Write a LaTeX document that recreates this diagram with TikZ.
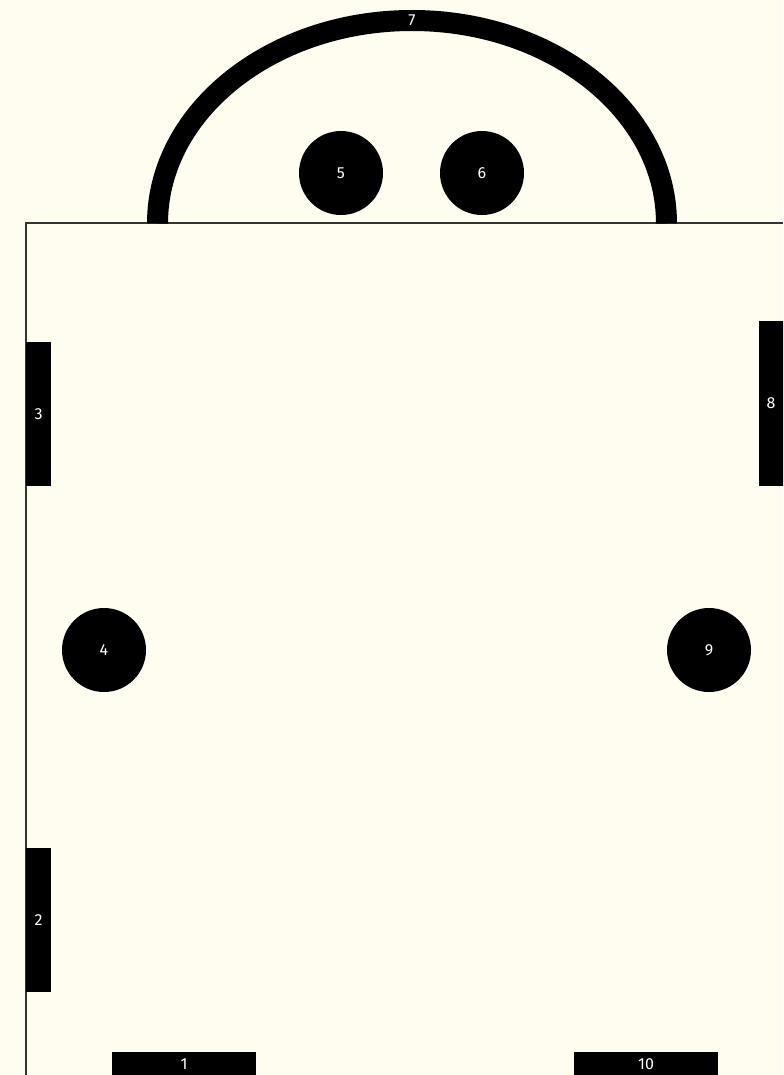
\documentclass[tikz,border=0pt]{standalone}
\usepackage{fontspec}
\setmainfont{Fira Sans}
\definecolor{bgcream}{HTML}{FFFDF0}
\definecolor{wallgray}{HTML}{333333}
\begin{document}
\begin{tikzpicture}[x=0.75pt,y=-0.75pt,
  lbl/.style={text=white,font=\fontsize{12}{14}\selectfont,inner sep=0pt},
  dot/.style={circle,fill=black,draw=none,minimum size=63pt,lbl},
  vbar/.style={rectangle,fill=black,draw=none,minimum width=18.75pt,lbl},
  hbar/.style={rectangle,fill=black,draw=none,minimum width=108pt,minimum height=18pt,lbl}]
\fill[bgcream] (0,0) rectangle (783,1075);
\useasboundingbox (0,0) rectangle (783,1075);
\clip (0,0) rectangle (783,1075);
% room outline
\draw[wallgray,line width=0.9pt] (783,223) -- (26,223) -- (26,1080);
% arc 7
\draw[black,line width=15.75pt] (157.5,223.5) arc[start angle=180,end angle=360,x radius=254.5,y radius=203];
\node[lbl] (n7) at (412,20) {7};
% circles
\node[dot] (n5) at (341,173) {5};
\node[dot] (n6) at (482,173) {6};
\node[dot] (n4) at (104,650) {4};
\node[dot] (n9) at (709,650) {9};
% bars
\node[vbar,minimum height=108pt] (n3) at (38.5,414) {3};
\node[vbar,minimum height=108pt] (n2) at (38.5,920) {2};
\node[vbar,minimum height=123.75pt] (n8) at (771,403.5) {8};
\node[hbar] (n1) at (184,1064) {1};
\node[hbar] (n10) at (646,1064) {10};
\end{tikzpicture}
\end{document}
